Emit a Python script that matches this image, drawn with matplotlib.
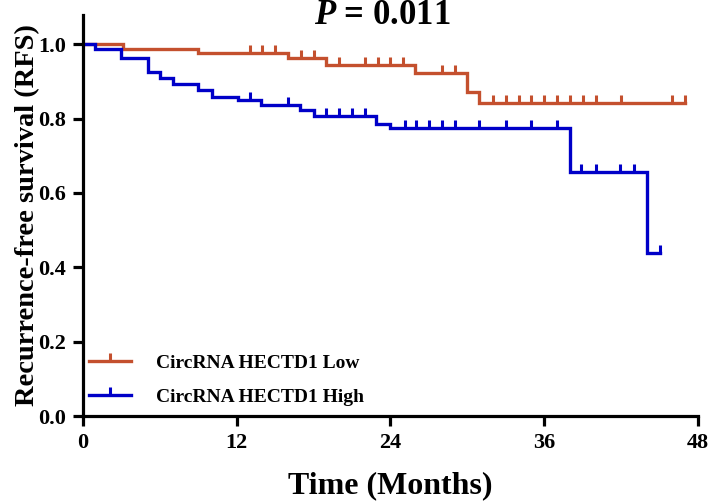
import matplotlib
matplotlib.use("Agg")
import matplotlib.pyplot as plt
from matplotlib.lines import Line2D
import numpy as np

plt.rcParams['font.family'] = ['Liberation Serif', 'DejaVu Serif']
plt.rcParams['font.weight'] = 'bold'
plt.rcParams['mathtext.fontset'] = 'custom'
plt.rcParams['mathtext.bfit'] = 'Liberation Serif:italic:bold'
plt.rcParams['mathtext.rm'] = 'Liberation Serif:bold'

# Kaplan-Meier steps (months, survival after event)
low_times = [3.1, 9.0, 16.0, 19.0, 25.9, 30.0, 30.9]
low_surv = [0.986, 0.975, 0.962, 0.945, 0.923, 0.870, 0.842]
low_censor = [13, 14, 15, 17, 18, 20, 22, 23, 24, 25, 28, 29, 32, 33, 34,
              35, 36, 37, 38, 39, 40, 42, 46, 47]

high_times = [0.94, 3.0, 5.1, 6.0, 7.05, 9.0, 10.05, 12.1, 13.9, 16.9,
              18.0, 22.9, 24.0, 38.0, 44.0]
high_surv = [0.986, 0.962, 0.925, 0.910, 0.893, 0.876, 0.859, 0.849, 0.835,
             0.822, 0.808, 0.786, 0.774, 0.655, 0.437]
high_censor = [13, 16, 19, 20, 21, 22, 25.1, 26, 27, 28, 29, 30.9, 33, 35,
               37, 38.9, 40, 41.9, 43, 45]

labels = ['CircRNA HECTD1 Low', 'CircRNA HECTD1 High']
colors = ['#C4502E', '#0000C8']
xticks = [0, 12, 24, 36, 48]
yticks = [0.0, 0.2, 0.4, 0.6, 0.8, 1.0]

fig = plt.figure(figsize=(7.09, 5.04), dpi=100)
ax = fig.add_axes([0.117, 0.1746, 0.8675, 0.7954])


def km_curve(times, surv, censor):
    x = np.concatenate([[0], times, [max(censor)]])
    y = np.concatenate([[1.0], surv, [surv[-1]]])
    idx = np.searchsorted(times, censor, side='right')
    cy = np.concatenate([[1.0], surv])[idx]
    return x, y, np.array(censor), cy


# blue drawn last, it sits on top of red at the start
for times, surv, censor, col in [(low_times, low_surv, low_censor, colors[0]),
                                 (high_times, high_surv, high_censor, colors[1])]:
    x, y, cx, cy = km_curve(times, surv, censor)
    ax.step(x, y, where='post', color=col, lw=2.4, solid_joinstyle='miter')
    ax.plot(cx, cy, ls='none', marker=2, ms=6, mew=2.2, color=col)

ax.set_xlim(0, 48)
ax.set_ylim(0, 1.078)
ax.set_xticks(xticks)
ax.set_yticks(yticks)
ax.set_yticklabels([f'{v:.1f}' for v in yticks])
for s in ['top', 'right']:
    ax.spines[s].set_visible(False)
for s in ['left', 'bottom']:
    ax.spines[s].set_linewidth(2.3)
ax.tick_params(width=2.3, length=7, labelsize=16, pad=5)

ax.set_xlabel('Time (Months)', fontsize=23, fontweight='bold', labelpad=13)
ax.set_ylabel('Recurrence-free survival (RFS)', fontsize=20.5, fontweight='bold')
ax.yaxis.set_label_coords(-0.07, 0.5)

fig.text(382 / 709, 1 - 15 / 504, r'$\mathbfit{P}$ = 0.011', fontsize=25,
         fontweight='bold', ha='center', va='center')

handles = [Line2D([], [], color=c, lw=2.4, marker=2, ms=6, mew=2.2) for c in colors]
ax.legend(handles, labels, loc='lower left', bbox_to_anchor=(0.0, 0.01),
          frameon=False, handlelength=2.15, handletextpad=1.3,
          borderpad=0, borderaxespad=0.3, labelspacing=0.85, numpoints=1,
          prop={'weight': 'bold', 'size': 14})

fig.savefig('out.png', dpi=100)
